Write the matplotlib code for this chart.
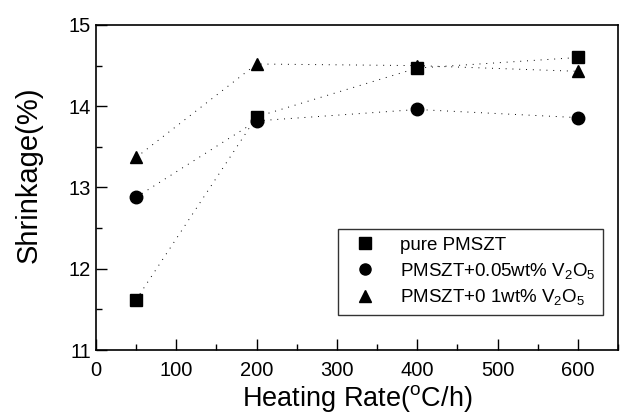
import matplotlib
matplotlib.use('Agg')
import matplotlib.pyplot as plt
from matplotlib.ticker import MultipleLocator

plt.rcParams['font.family'] = ['Liberation Sans', 'DejaVu Sans']
plt.rcParams['mathtext.fontset'] = 'custom'
plt.rcParams['mathtext.rm'] = 'Liberation Sans'
plt.rcParams['mathtext.it'] = 'Liberation Sans:italic'

rate = [50, 200, 400, 600]
pure = [11.62, 13.87, 14.47, 14.60]
v005 = [12.88, 13.82, 13.96, 13.86]
v01 = [13.37, 14.52, 14.50, 14.43]
labels = ['pure PMSZT', 'PMSZT+0.05wt% V$_\\mathrm{2}$O$_\\mathrm{5}$',
          'PMSZT+0 1wt% V$_\\mathrm{2}$O$_\\mathrm{5}$']

fig = plt.figure(figsize=(6.23, 4.19), dpi=100)
ax = fig.add_axes([96 / 623, 1 - 350 / 419, 522 / 623, 325 / 419])

for y, m, lab in zip([pure, v005, v01], ['s', 'o', '^'], labels):
    ax.plot(rate, y, color='black', linestyle=(0, (1, 6)), linewidth=0.7,
            marker=m, markersize=9, label=lab)

ax.set_xlim(0, 650)
ax.set_ylim(11, 15)
ax.xaxis.set_major_locator(MultipleLocator(100))
ax.xaxis.set_minor_locator(MultipleLocator(50))
ax.yaxis.set_major_locator(MultipleLocator(1))
ax.yaxis.set_minor_locator(MultipleLocator(0.5))
ax.tick_params(which='major', direction='in', length=8, width=1, labelsize=14.5)
ax.tick_params(which='minor', direction='in', length=4, width=1)
ax.tick_params(axis='x', pad=8)
for s in ax.spines.values():
    s.set_linewidth(1.2)

ax.set_xlabel('Heating Rate($^\\mathrm{o}$C/h)', fontsize=19.5, labelpad=2)
ax.set_ylabel('Shrinkage(%)', fontsize=21)
ax.yaxis.set_label_coords(-0.103, 0.54)

# legend shows markers only
handles, labs = ax.get_legend_handles_labels()
marks = [plt.Line2D([], [], color='black', linestyle='none', marker=h.get_marker(), markersize=8)
         for h in handles]
leg = ax.legend(handles=marks, labels=labs, loc='lower right', bbox_to_anchor=(0.99, 0.08),
                fontsize=13.5, frameon=True, fancybox=False, edgecolor='black',
                handletextpad=0.9, borderpad=0.4, labelspacing=0.35)
leg.get_frame().set_linewidth(1.0)

fig.savefig('out.png', dpi=100)
